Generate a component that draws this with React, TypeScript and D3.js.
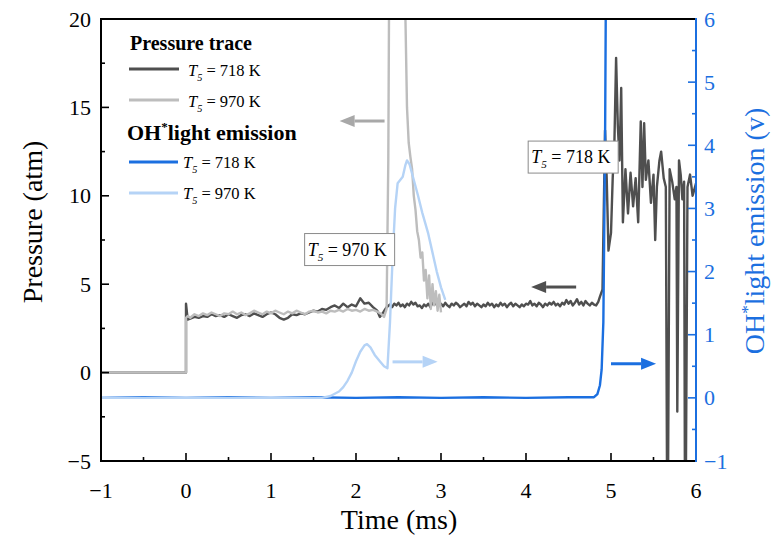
import React from "react";
import * as d3 from "d3";

// ---------- data ----------
// Pressure trace, T5 = 718 K : [time (ms), pressure (atm)]
const pressure718: [number, number][] = [
  [-1, 0], [0, 0], [0, 3.9], [0.02, 3.0], [0.05, 3.05], [0.1, 3.15], [0.15, 3.1], [0.2, 3.2], [0.25, 3.15], [0.3, 3.3],
  [0.35, 3.2], [0.4, 3.25], [0.45, 3.15], [0.5, 3.3], [0.55, 3.2], [0.6, 3.1], [0.65, 3.25], [0.7, 3.3], [0.75, 3.2],
  [0.8, 3.35], [0.85, 3.25], [0.9, 3.15], [0.95, 3.3], [1.0, 3.4], [1.05, 3.3], [1.1, 3.1], [1.15, 3.0], [1.2, 3.1],
  [1.25, 3.3], [1.3, 3.25], [1.35, 3.35], [1.4, 3.3], [1.45, 3.4], [1.5, 3.5], [1.55, 3.45], [1.6, 3.6], [1.65, 3.55],
  [1.7, 3.7], [1.75, 3.8], [1.8, 3.65], [1.85, 3.9], [1.9, 3.7], [1.95, 3.85], [2.0, 3.75], [2.05, 4.2], [2.1, 3.9],
  [2.15, 3.95], [2.2, 3.7], [2.25, 3.5], [2.28, 3.15], [2.32, 3.4], [2.36, 3.7],
  [2.4, 3.85], [2.425, 3.7], [2.45, 3.9], [2.475, 3.8], [2.5, 3.95], [2.525, 3.75], [2.55, 3.85], [2.575, 3.7],
  [2.6, 3.9], [2.625, 3.8], [2.65, 4.0], [2.675, 3.85], [2.7, 3.95], [2.725, 3.75], [2.75, 3.8], [2.775, 3.65],
  [2.8, 3.85], [2.825, 3.75], [2.85, 3.9], [2.875, 3.7], [2.9, 3.95], [2.925, 3.85], [2.95, 4.05], [2.975, 3.8],
  [3.0, 3.9], [3.025, 3.75], [3.05, 3.95], [3.075, 3.8], [3.1, 3.7], [3.125, 3.9], [3.15, 3.8], [3.175, 3.95],
  [3.2, 3.85], [3.225, 3.7], [3.25, 3.8], [3.275, 3.9], [3.3, 3.75], [3.325, 4.0], [3.35, 3.85], [3.375, 3.95],
  [3.4, 3.75], [3.425, 3.9], [3.45, 3.8], [3.475, 3.7], [3.5, 3.85], [3.525, 3.75], [3.55, 3.95], [3.575, 3.8],
  [3.6, 3.9], [3.625, 3.7], [3.65, 3.85], [3.675, 3.75], [3.7, 3.95], [3.725, 3.8], [3.75, 3.9], [3.775, 3.7],
  [3.8, 3.85], [3.825, 3.95], [3.85, 3.75], [3.875, 3.9], [3.9, 3.8], [3.925, 3.7], [3.95, 3.85], [3.975, 3.75],
  [4.0, 3.9], [4.025, 3.85], [4.05, 4.05], [4.075, 3.8], [4.1, 3.9], [4.125, 3.75], [4.15, 3.95], [4.175, 3.85],
  [4.2, 3.7], [4.225, 3.9], [4.25, 3.8], [4.275, 3.95], [4.3, 3.85], [4.325, 4.0], [4.35, 3.8], [4.375, 3.9],
  [4.4, 3.75], [4.425, 3.95], [4.45, 3.85], [4.475, 4.1], [4.5, 3.9], [4.525, 4.05], [4.55, 3.8], [4.575, 3.95],
  [4.6, 4.15], [4.625, 3.85], [4.65, 4.0], [4.675, 3.8], [4.7, 4.05], [4.725, 3.9], [4.75, 3.8], [4.775, 3.95],
  [4.8, 3.85], [4.825, 3.8], [4.85, 4.0], [4.87, 4.3], [4.9, 4.7],
  [4.93, 13.7], [4.95, 10.9], [4.97, 6.9], [5.0, 7.9], [5.02, 11.0], [5.04, 13.0], [5.06, 17.8], [5.08, 14.0],
  [5.1, 12.0], [5.12, 16.1], [5.14, 8.5], [5.17, 11.5], [5.2, 9.0], [5.23, 11.3], [5.26, 9.4], [5.29, 11.0],
  [5.32, 8.5], [5.35, 14.2], [5.37, 10.5], [5.39, 14.1], [5.41, 10.9], [5.44, 12.0], [5.47, 9.6], [5.5, 11.2],
  [5.52, 7.5], [5.54, 10.5], [5.57, 12.0], [5.59, 12.5], [5.62, 11.0], [5.645, 10.5], [5.66, -7], [5.67, -7],
  [5.69, 11.5], [5.72, 10.8], [5.75, 9.8], [5.77, 10.5], [5.78, -2.2], [5.8, 12.0], [5.82, 11.2], [5.84, 9.8],
  [5.86, 10.8], [5.87, -7], [5.88, -7], [5.9, 10.5], [5.93, 11.2], [5.96, 10.0], [6.0, 10.7],
];

// Pressure trace, T5 = 970 K
const pressure970: [number, number][] = [
  [-1, 0], [0, 0], [0, 3.1], [0.02, 3.2], [0.05, 3.1], [0.1, 3.3], [0.15, 3.2], [0.2, 3.35], [0.25, 3.25], [0.3, 3.4],
  [0.35, 3.3], [0.4, 3.2], [0.45, 3.35], [0.5, 3.3], [0.55, 3.45], [0.6, 3.3], [0.65, 3.4], [0.7, 3.25], [0.75, 3.35],
  [0.8, 3.5], [0.85, 3.4], [0.9, 3.3], [0.95, 3.45], [1.0, 3.35], [1.05, 3.5], [1.1, 3.4], [1.15, 3.3], [1.2, 3.45],
  [1.25, 3.35], [1.3, 3.5], [1.35, 3.4], [1.4, 3.3], [1.45, 3.45], [1.5, 3.5], [1.55, 3.4], [1.6, 3.45], [1.65, 3.35],
  [1.7, 3.5], [1.75, 3.45], [1.8, 3.55], [1.85, 3.45], [1.9, 3.6], [1.95, 3.5], [2.0, 3.55], [2.05, 3.45], [2.1, 3.6],
  [2.15, 3.5], [2.2, 3.55], [2.25, 3.45], [2.3, 3.3], [2.33, 3.15], [2.36, 3.6], [2.38, 12], [2.39, 22], [2.45, 24],
  [2.5, 23], [2.55, 21], [2.58, 20.5], [2.6, 15], [2.62, 13], [2.64, 12.2], [2.66, 11.5], [2.68, 10], [2.7, 9.2],
  [2.72, 8], [2.74, 7.5], [2.76, 6.5], [2.78, 6.8], [2.8, 5.2], [2.82, 5.8], [2.84, 4.2], [2.86, 5.5], [2.88, 3.6],
  [2.9, 5.0], [2.92, 3.8], [2.94, 4.6], [2.96, 3.5], [2.98, 4.4], [3.0, 3.4],
];

// OH* light emission, T5 = 718 K : [time (ms), signal (V)]
const emission718: [number, number][] = [
  [-1, 0], [-0.5, 0.01], [0, 0], [0.5, 0.01], [1, 0], [1.5, 0.01], [2, 0], [2.5, 0.01], [3, 0], [3.5, 0.01],
  [4, 0], [4.5, 0.01], [4.8, 0.01], [4.84, 0.06], [4.87, 0.2], [4.89, 0.45], [4.91, 1.2], [4.93, 4], [4.95, 9], [6, 9],
];

// OH* light emission, T5 = 970 K
const emission970: [number, number][] = [
  [-1, 0], [0, 0], [1, 0], [1.6, 0], [1.7, 0.03], [1.8, 0.1], [1.85, 0.17], [1.9, 0.27], [1.95, 0.4], [2.0, 0.58],
  [2.05, 0.73], [2.1, 0.83], [2.13, 0.85], [2.17, 0.8], [2.22, 0.68], [2.28, 0.58], [2.33, 0.5], [2.37, 0.47],
  [2.4, 1.2], [2.43, 2.2], [2.46, 3.0], [2.49, 3.4], [2.52, 3.45], [2.55, 3.5], [2.58, 3.68], [2.6, 3.76],
  [2.63, 3.7], [2.68, 3.45], [2.73, 3.2], [2.78, 2.93], [2.85, 2.6], [2.9, 2.3], [2.95, 2.0], [3.0, 1.75], [3.05, 1.55],
];

const xTicks = [-1, 0, 1, 2, 3, 4, 5, 6];
const yLeftTicks = [-5, 0, 5, 10, 15, 20];
const yRightTicks = [-1, 0, 1, 2, 3, 4, 5, 6];

// annotation arrows (data coords): from time -> to time at a value
const arrowGray970 = { from: 2.336, to: 1.807, value: 14.23 };
const arrowDark718 = { from: 4.59, to: 4.06, value: 4.84 };
const arrowLight970 = { from: 2.43, to: 2.96, value: 0.57 };
const arrowBlue718 = { from: 5.0, to: 5.53, value: 0.54 };
const labelBoxes = [
  { t: 1.925, p: 6.96, text: " = 970 K" },
  { t: 4.555, p: 12.19, text: " = 718 K" },
];

// ---------- styles ----------
const C_DARK = "#4f4f4f";
const C_LIGHT = "#bdbdbd";
const C_BLUE = "#1b6fe0";
const C_LBLUE = "#b5d3f6";
const FONT = "Liberation Serif";

const W = 771, H = 540;
const X0 = 101, X1 = 696, Y0 = 19, Y1 = 461;

export default function App() {
  const x = d3.scaleLinear().domain([-1, 6]).range([X0, X1]);
  const yL = d3.scaleLinear().domain([-5, 20]).range([Y1, Y0]);
  const yR = d3.scaleLinear().domain([-1, 6]).range([Y1, Y0]);

  const lineL = d3.line<[number, number]>().x((d) => x(d[0])).y((d) => yL(d[1]));
  const lineR = d3.line<[number, number]>().x((d) => x(d[0])).y((d) => yR(d[1]));

  const minorX = d3.range(-1, 6.01, 0.5).filter((v) => Math.abs(v - Math.round(v)) > 0.01);
  const minorL = d3.range(-5, 20.01, 2.5).filter((v) => v % 5 !== 0);
  const minorR = d3.range(-1, 6.01, 0.5).filter((v) => Math.abs(v - Math.round(v)) > 0.01);

  const fmt = (v: number) => (v < 0 ? "\u2212" + Math.abs(v) : String(v));

  const arrow = (x0: number, x1: number, y: number, color: string, key: string) => {
    const dir = Math.sign(x1 - x0);
    const headLen = 15;
    const hw = 6;
    return (
      <g key={key}>
        <line x1={x0} y1={y} x2={x1 - dir * headLen} y2={y} stroke={color} strokeWidth={3} />
        <path d={`M${x1},${y} L${x1 - dir * headLen},${y - hw} L${x1 - dir * headLen},${y + hw} Z`} fill={color} />
      </g>
    );
  };

  const tLabel = (xx: number, yy: number, size: number, rest: string) => (
    <text x={xx} y={yy} fontSize={size} fill="#000">
      <tspan fontStyle="italic">T</tspan>
      <tspan fontStyle="italic" fontSize={size * 0.62} dy={size * 0.28}>5</tspan>
      <tspan dy={-size * 0.28}>{rest}</tspan>
    </text>
  );

  return (
    <svg width={W} height={H} style={{ position: "absolute", left: 0, top: 0, background: "#fff", fontFamily: FONT }}>
      <defs>
        <clipPath id="plotclip">
          <rect x={X0} y={Y0} width={X1 - X0} height={Y1 - Y0} />
        </clipPath>
      </defs>
      <rect x={0} y={0} width={W} height={H} fill="#fff" />

      {/* data lines */}
      <g clipPath="url(#plotclip)" fill="none" strokeLinejoin="round">
        <path d={lineL(pressure718) || ""} stroke={C_DARK} strokeWidth={2.4} />
        <path d={lineL(pressure970) || ""} stroke={C_LIGHT} strokeWidth={2.4} />
        <path d={lineR(emission718) || ""} stroke={C_BLUE} strokeWidth={2.4} />
        <path d={lineR(emission970) || ""} stroke={C_LBLUE} strokeWidth={2.4} />
      </g>

      {/* arrows */}
      {arrow(x(arrowGray970.from), x(arrowGray970.to), yL(arrowGray970.value), "#a8a8a8", "a1")}
      {arrow(x(arrowDark718.from), x(arrowDark718.to), yL(arrowDark718.value), C_DARK, "a2")}
      {arrow(x(arrowLight970.from), x(arrowLight970.to), yR(arrowLight970.value), C_LBLUE, "a3")}
      {arrow(x(arrowBlue718.from), x(arrowBlue718.to), yR(arrowBlue718.value), C_BLUE, "a4")}

      {/* label boxes */}
      {labelBoxes.map((b, i) => {
        const cx = x(b.t), cy = yL(b.p);
        return (
          <g key={i}>
            <rect x={cx - 45} y={cy - 16} width={90} height={32} fill="#fff" stroke="#8a8a8a" strokeWidth={1} />
            {tLabel(cx - 42, cy + 6, 18, b.text)}
          </g>
        );
      })}

      {/* frame */}
      <line x1={X0} y1={Y0} x2={X1} y2={Y0} stroke="#000" strokeWidth={2} />
      <line x1={X0} y1={Y0 - 1} x2={X0} y2={Y1 + 1} stroke="#000" strokeWidth={2} />
      <line x1={X0 - 1} y1={Y1} x2={X1} y2={Y1} stroke="#000" strokeWidth={2} />
      <line x1={X1} y1={Y0 - 1} x2={X1} y2={Y1 + 1} stroke={C_BLUE} strokeWidth={2} />

      {/* x ticks */}
      {xTicks.map((t) => (
        <g key={"xt" + t}>
          {t > -1 && t < 6 && <line x1={x(t)} x2={x(t)} y1={Y1} y2={Y1 - 8} stroke="#000" strokeWidth={1.6} />}
          <text x={x(t)} y={498} textAnchor="middle" fontSize={22}>{fmt(t)}</text>
        </g>
      ))}
      {minorX.map((t) => (
        <line key={"xm" + t} x1={x(t)} x2={x(t)} y1={Y1} y2={Y1 - 4} stroke="#000" strokeWidth={1.6} />
      ))}

      {/* left y ticks */}
      {yLeftTicks.map((v) => (
        <g key={"yl" + v}>
          {v > -5 && v < 20 && <line x1={X0} x2={X0 + 8} y1={yL(v)} y2={yL(v)} stroke="#000" strokeWidth={1.6} />}
          <text x={91} y={yL(v) + 7.5} textAnchor="end" fontSize={22}>{fmt(v)}</text>
        </g>
      ))}
      {minorL.map((v) => (
        <line key={"ylm" + v} x1={X0} x2={X0 + 4} y1={yL(v)} y2={yL(v)} stroke="#000" strokeWidth={1.6} />
      ))}

      {/* right y ticks */}
      {yRightTicks.map((v) => (
        <g key={"yr" + v}>
          {v > -1 && v < 6 && <line x1={X1} x2={X1 - 8} y1={yR(v)} y2={yR(v)} stroke={C_BLUE} strokeWidth={1.6} />}
          <text x={704} y={yR(v) + 7.5} textAnchor="start" fontSize={22} fill={C_BLUE}>{fmt(v)}</text>
        </g>
      ))}
      {minorR.map((v) => (
        <line key={"yrm" + v} x1={X1} x2={X1 - 4} y1={yR(v)} y2={yR(v)} stroke={C_BLUE} strokeWidth={1.6} />
      ))}

      {/* axis titles */}
      <text x={399} y={529} textAnchor="middle" fontSize={28}>Time (ms)</text>
      <text transform={`translate(42,222) rotate(-90)`} textAnchor="middle" fontSize={28}>Pressure (atm)</text>
      <text transform={`translate(764,231) rotate(-90)`} textAnchor="middle" fontSize={28} fill={C_BLUE}>
        <tspan>OH</tspan>
        <tspan fontSize={17} dy={-11}>*</tspan>
        <tspan dy={11}>light emission (v)</tspan>
      </text>

      {/* legend */}
      <text x={130} y={50} fontSize={20} fontWeight="bold">Pressure trace</text>
      <line x1={129} x2={179} y1={69} y2={69} stroke={C_DARK} strokeWidth={3} />
      {tLabel(188, 76, 16.5, " = 718 K")}
      <line x1={129} x2={179} y1={100} y2={100} stroke={C_LIGHT} strokeWidth={3} />
      {tLabel(188, 107, 16.5, " = 970 K")}
      <text x={127} y={140} fontSize={22} fontWeight="bold">
        <tspan>OH</tspan>
        <tspan fontSize={13} dy={-9}>*</tspan>
        <tspan dy={9}>light emission</tspan>
      </text>
      <line x1={129} x2={178} y1={162} y2={162} stroke={C_BLUE} strokeWidth={3} />
      {tLabel(183, 168, 16.5, " = 718 K")}
      <line x1={129} x2={178} y1={193} y2={193} stroke={C_LBLUE} strokeWidth={3} />
      {tLabel(183, 199, 16.5, " = 970 K")}
    </svg>
  );
}
